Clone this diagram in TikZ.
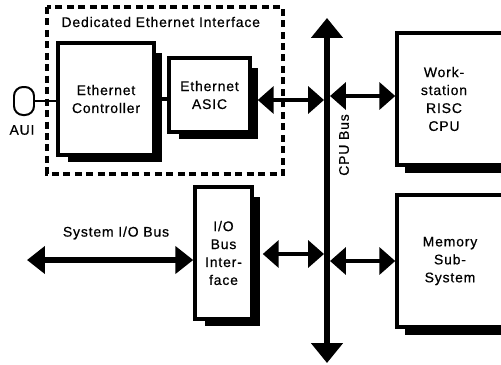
\documentclass[tikz,border=0pt]{standalone}
\usepackage{fontspec}
\setmainfont{Liberation Sans}[LetterSpace=6,FakeBold=0.6]
\usetikzlibrary{arrows.meta,calc,backgrounds}
\tikzset{
  unit/.style={draw,line width=3.5pt,fill=white,inner sep=0pt,align=center},
  link/.style={line width=4.5pt,{Triangle[width=27pt,length=16pt]}-{Triangle[width=27pt,length=16pt]}},
}
\newcommand{\dropshadow}[1]{\fill ([xshift=12bp,yshift=-5bp]#1.south west) rectangle ([xshift=6bp,yshift=-12bp]#1.north east);}

\begin{document}
\begin{tikzpicture}[x=1bp,y=-1bp,font=\fontsize{14}{18}\selectfont]
    \useasboundingbox (0,0) rectangle (501,364);

    % dedicated interface
    \draw[line width=3.5pt,dash pattern=on 7pt off 4.5pt] (47,7) rectangle (283,174);
    \node[anchor=west] (dei) at (58,22) {Dedicated Ethernet Interface};

    \node[unit,minimum width=96bp,minimum height=112bp] (ctrl) at (106,99) {Ethernet\\Controller};
    \node[unit,minimum width=81bp,minimum height=74bp] (asic) at (209.5,95) {Ethernet\\ASIC};
    \node[unit,minimum width=57bp,minimum height=132bp] (iobi) at (223.5,253) {I/O\\Bus\\Inter-\\face};
    \node[unit,fill=none,minimum width=160bp,minimum height=132bp] (cpu) at (477,99) {};
    \node[unit,fill=none,minimum width=160bp,minimum height=132bp] (mem) at (477,261) {};
    \node[align=center] (cputext) at (444,99) {Work-\\station\\RISC\\CPU};
    \node[align=center] (memtext) at (450,261) {Memory\\Sub-\\System};

    \begin{scope}[on background layer]
        \dropshadow{ctrl}
        \dropshadow{asic}
        \dropshadow{iobi}
    \end{scope}
    \fill ([xshift=10bp]cpu.south west) rectangle ([yshift=-6bp]cpu.south -| 501,0);
    \fill ([xshift=10bp]mem.south west) rectangle ([yshift=-6bp]mem.south -| 501,0);

    % AUI port
    \node[draw,line width=2pt,rounded corners=9bp,minimum width=20bp,minimum height=28bp,inner sep=0pt] (aui) at (24,101) {};
    \node (auilabel) at (22,130) {AUI};
    \draw[line width=2pt] (aui.east) -- (aui.east -| ctrl.west);
    \draw[line width=4.5pt] (ctrl.east) -- (ctrl.east -| asic.west);

    % cpu bus
    \coordinate (bustop) at (327,18);
    \coordinate (busbot) at (327,363);
    \draw[line width=6pt,{Triangle[width=31pt,length=20pt]}-{Triangle[width=31pt,length=20pt]}] (bustop) -- (busbot);
    \node[rotate=90] (buslabel) at (344,145) {CPU Bus};

    \draw[link] ($(asic.east)+(6,5)$) -- ($(asic.east -| bustop)+(-3,5)$);
    \draw[link] ($(cpu.west -| bustop)+(3,-3)$) -- ($(cpu.west)+(0,-3)$);
    \draw[link] ($(iobi.east)+(9,1)$) -- ($(iobi.east -| bustop)+(-3,1)$);
    \draw[link] ($(mem.west -| bustop)+(3,0)$) -- (mem.west);

    % system i/o bus
    \coordinate (sysend) at (27,260);
    \draw[line width=7pt,{Triangle[width=27pt,length=18pt]}-{Triangle[width=27pt,length=18pt]}] (sysend) -- (sysend -| iobi.west);
    \node (syslabel) at (116,233) {System I/O Bus};
\end{tikzpicture}
\end{document}
